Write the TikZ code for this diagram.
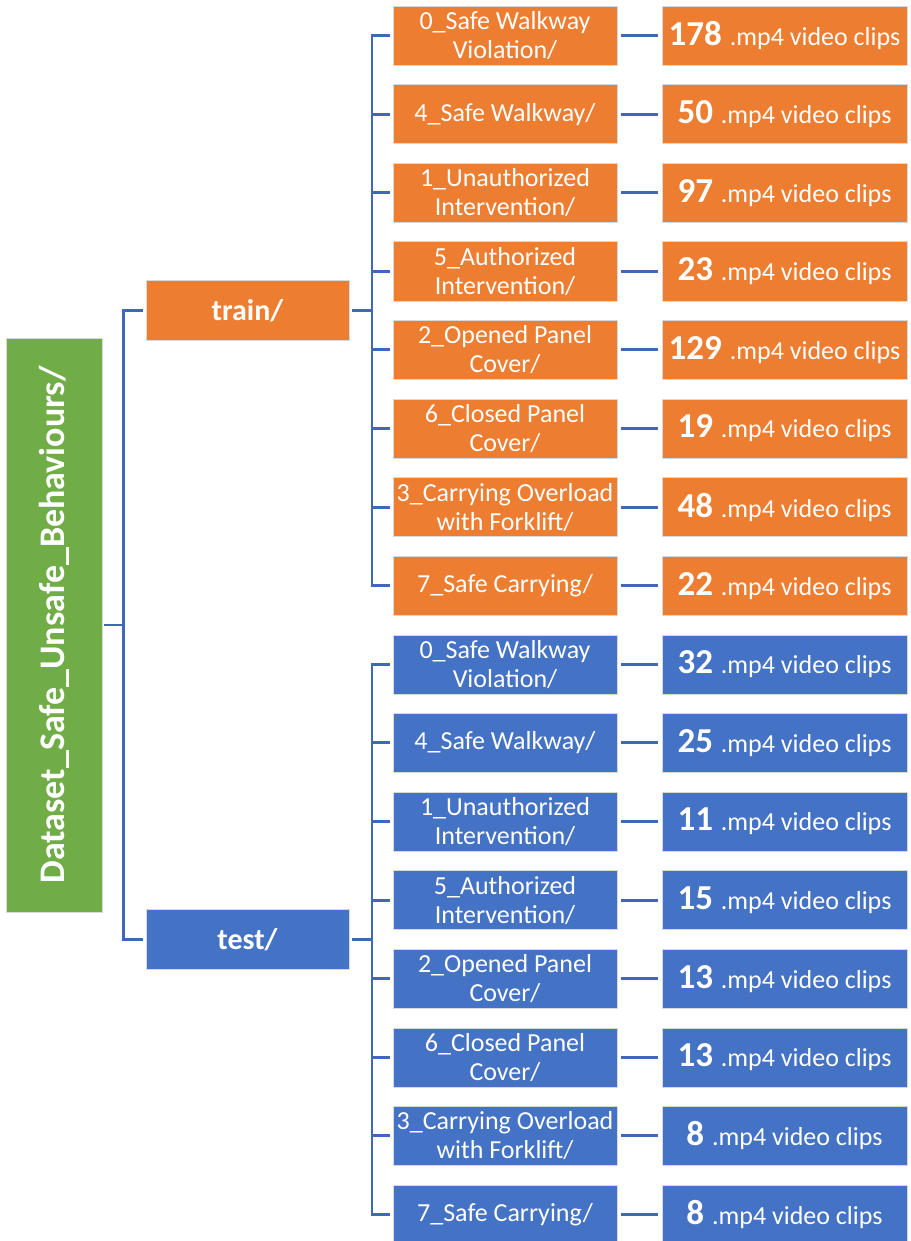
\documentclass[tikz,border=0pt]{standalone}
\usepackage{fontspec}
\setmainfont{Carlito}
\definecolor{orng}{HTML}{ED7D31}
\definecolor{blu}{HTML}{4472C4}
\definecolor{grn}{HTML}{70AD47}
\definecolor{lin}{HTML}{4168B8}
\begin{document}
\begin{tikzpicture}[x=1pt,y=-1pt,
  box/.style={draw=white!85!black, line width=0.6pt, text=white, inner sep=0pt, align=center},
  leaf/.style={box, minimum width=224, minimum height=59, font=\fontsize{26}{29}\selectfont},
  cnt/.style={box, minimum width=245, minimum height=59, font=\fontsize{26}{29}\selectfont},
  mid/.style={box, minimum width=203, minimum height=60, font=\fontsize{30}{32}\selectfont\bfseries},
  conn/.style={draw=lin, line width=2.9pt},
]
\useasboundingbox (0,0) rectangle (910,1241);
\newcommand{\num}[1]{{\fontsize{35}{35}\selectfont\bfseries #1 }}
% root
\node[box, fill=grn, minimum width=96, minimum height=574] (root) at (54,625) {};
\node[rotate=90, text=white, font=\fontsize{36}{36}\selectfont\bfseries] (roottext) at (root.center) {Dataset\_Safe\_Unsafe\_Behaviours/};
% mid
\node[mid, fill=orng] (train) at (247.5,310.5) {train/};
\node[mid, fill=blu] (test) at (247.5,939.5) {test/};
\coordinate (rootbus) at (123.5,625);
\draw[conn, shorten <=2] (root.east |- rootbus) -- (rootbus);
\draw[conn, shorten >=3] (rootbus) |- (train.west);
\draw[conn, shorten >=3] (rootbus) |- (test.west);
\coordinate (trainbus) at (372,310.5);
\coordinate (testbus) at (372,939.5);
\draw[conn, shorten <=3] (train.east) -- (trainbus);
\draw[conn, shorten <=3] (test.east) -- (testbus);
% leaves
\foreach \k/\lab/\n/\col/\bus in {
  0/{0\_Safe Walkway\\Violation/}/178/orng/trainbus,
  1/{4\_Safe Walkway/}/50/orng/trainbus,
  2/{1\_Unauthorized\\Intervention/}/97/orng/trainbus,
  3/{5\_Authorized\\Intervention/}/23/orng/trainbus,
  4/{2\_Opened Panel\\Cover/}/129/orng/trainbus,
  5/{6\_Closed Panel\\Cover/}/19/orng/trainbus,
  6/{3\_Carrying Overload\\with Forklift/}/48/orng/trainbus,
  7/{7\_Safe Carrying/}/22/orng/trainbus,
  8/{0\_Safe Walkway\\Violation/}/32/blu/testbus,
  9/{4\_Safe Walkway/}/25/blu/testbus,
  10/{1\_Unauthorized\\Intervention/}/11/blu/testbus,
  11/{5\_Authorized\\Intervention/}/15/blu/testbus,
  12/{2\_Opened Panel\\Cover/}/13/blu/testbus,
  13/{6\_Closed Panel\\Cover/}/13/blu/testbus,
  14/{3\_Carrying Overload\\with Forklift/}/8/blu/testbus,
  15/{7\_Safe Carrying/}/8/blu/testbus} {
  \pgfmathsetmacro{\yy}{35.5+78.6*\k}
  \node[leaf, fill=\col] (leaf\k) at (505,\yy) {\lab};
  \node[cnt, fill=\col] (cnt\k) at (784.5,\yy) {\num{\n}.mp4 video clips};
  \draw[conn, shorten >=3] (\bus) |- (leaf\k.west);
  \draw[conn, shorten <=4, shorten >=4] (leaf\k.east) -- (cnt\k.west);
}
\end{tikzpicture}
\end{document}
